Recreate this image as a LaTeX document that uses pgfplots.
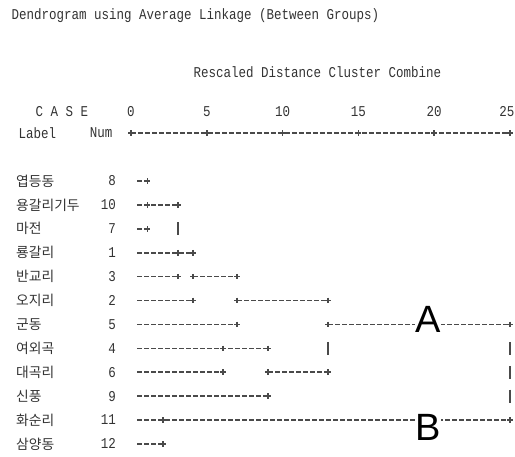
\documentclass[border=0pt]{standalone}
\usepackage{pgfplots}
\pgfplotsset{compat=1.18}
\usepackage{graphicx}
\usepackage{fontspec}
\setmainfont{Liberation Sans}
\newfontfamily\kr{Noto Sans CJK KR}
\newfontfamily\mono{Liberation Mono}
\definecolor{txt}{HTML}{333333}
\definecolor{ln}{HTML}{4A4A4A}
\newcommand{\mt}[1]{\scalebox{1.0}[1.2]{\mono\fontsize{12.5pt}{13pt}\selectfont #1}}
\newcommand{\kt}[1]{{\kr\fontsize{13.8pt}{14pt}\selectfont #1}}
\tikzset{
  seg/.style={color=ln, line width=1.6pt, dash pattern=on 4.6pt off 2.4pt, mark=none},
  bar/.style={color=ln, line width=1.5pt, mark=none},
  plus/.style={color=ln, only marks, mark=+, mark size=2.8pt, mark options={solid, line width=1.6pt}},
  lab/.style={anchor=west, text=txt, inner sep=0pt},
  num/.style={anchor=east, text=txt, inner sep=0pt},
}
\begin{document}
\begin{tikzpicture}
\useasboundingbox (0,0) rectangle (515pt,456pt);
\begin{axis}[
  at={(0,0)}, anchor=south west, scale only axis,
  width=515pt, height=456pt,
  xmin=-8.641, xmax=25.33, ymin=-6.573, ymax=12.506,
  y dir=reverse, hide axis, clip=false,
]
% header text
\node[anchor=west, text=txt] at (axis cs:-8.11,-5.90) {\mt{Dendrogram using Average Linkage (Between Groups)}};
\node[anchor=west, text=txt] at (axis cs:3.89,-3.561) {\mt{Rescaled Distance Cluster Combine}};
\node[anchor=west, text=txt] at (axis cs:-6.53,-1.887) {\mt{C A S E}};
\node[text=txt] at (axis cs:0,-1.887) {\mt{0}};
\node[text=txt] at (axis cs:5,-1.887) {\mt{5}};
\node[text=txt] at (axis cs:10,-1.887) {\mt{10}};
\node[text=txt] at (axis cs:15,-1.887) {\mt{15}};
\node[text=txt] at (axis cs:20,-1.887) {\mt{20}};
\node[text=txt] at (axis cs:24.8,-1.887) {\mt{25}};
\node[anchor=west, text=txt] at (axis cs:-7.65,-1.008) {\mt{Label}};
\node[anchor=east, text=txt] at (axis cs:-0.99,-1.008) {\mt{Num}};
% ruler
\addplot[seg] coordinates {(0,-1.008) (25,-1.008)};
\addplot[plus] coordinates {(0,-1.008) (5,-1.008) (10,-1.008) (15,-1.008) (20,-1.008) (25,-1.008)};
% row labels
\node[lab] at (axis cs:-7.586,1) {\kt{엽등동}};
\node[lab] at (axis cs:-7.586,2) {\kt{용갈리기두}};
\node[lab] at (axis cs:-7.586,3) {\kt{마전}};
\node[lab] at (axis cs:-7.586,4) {\kt{룡갈리}};
\node[lab] at (axis cs:-7.586,5) {\kt{반교리}};
\node[lab] at (axis cs:-7.586,6) {\kt{오지리}};
\node[lab] at (axis cs:-7.586,7) {\kt{군동}};
\node[lab] at (axis cs:-7.586,8) {\kt{여외곡}};
\node[lab] at (axis cs:-7.586,9) {\kt{대곡리}};
\node[lab] at (axis cs:-7.586,10) {\kt{신풍}};
\node[lab] at (axis cs:-7.586,11) {\kt{화순리}};
\node[lab] at (axis cs:-7.586,12) {\kt{삼양동}};
\node[num] at (axis cs:-0.99,1) {\mt{8}};
\node[num] at (axis cs:-0.99,2) {\mt{10}};
\node[num] at (axis cs:-0.99,3) {\mt{7}};
\node[num] at (axis cs:-0.99,4) {\mt{1}};
\node[num] at (axis cs:-0.99,5) {\mt{3}};
\node[num] at (axis cs:-0.99,6) {\mt{2}};
\node[num] at (axis cs:-0.99,7) {\mt{5}};
\node[num] at (axis cs:-0.99,8) {\mt{4}};
\node[num] at (axis cs:-0.99,9) {\mt{6}};
\node[num] at (axis cs:-0.99,10) {\mt{9}};
\node[num] at (axis cs:-0.99,11) {\mt{11}};
\node[num] at (axis cs:-0.99,12) {\mt{12}};
% horizontal segments
\addplot[seg] coordinates {(0.4,1) (1.1,1)};
\addplot[seg] coordinates {(0.4,2) (3.1,2)};
\addplot[seg] coordinates {(0.4,3) (1.1,3)};
\addplot[seg] coordinates {(0.4,4) (4.1,4)};
\addplot[seg] coordinates {(0.4,5) (3.1,5)};
\addplot[seg] coordinates {(4.1,5) (7.0,5)};
\addplot[seg] coordinates {(0.4,6) (4.1,6)};
\addplot[seg] coordinates {(7.0,6) (13.0,6)};
\addplot[seg] coordinates {(0.4,7) (7.0,7)};
\addplot[seg] coordinates {(13.0,7) (25,7)};
\addplot[seg] coordinates {(0.4,8) (9.05,8)};
\addplot[seg] coordinates {(0.4,9) (6.05,9)};
\addplot[seg] coordinates {(9.05,9) (13.0,9)};
\addplot[seg] coordinates {(0.4,10) (9.05,10)};
\addplot[seg] coordinates {(0.4,11) (25,11)};
\addplot[seg] coordinates {(0.4,12) (2.1,12)};
% vertical bars
\addplot[bar] coordinates {(3.1,2.73) (3.1,3.27)};
\addplot[bar] coordinates {(13.0,7.73) (13.0,8.27)};
\addplot[bar] coordinates {(25,7.73) (25,8.27)};
\addplot[bar] coordinates {(25,8.73) (25,9.27)};
\addplot[bar] coordinates {(25,9.73) (25,10.27)};
% plus marks
\addplot[plus] coordinates {
(1.1,1) (1.1,2) (3.1,2) (1.1,3) (3.1,4) (4.1,4)
(3.1,5) (4.1,5) (7.0,5) (4.1,6) (7.0,6) (13.0,6)
(7.0,7) (13.0,7) (25,7) (6.05,8) (9.05,8)
(6.05,9) (9.05,9) (13.0,9) (9.05,10) (2.1,11) (25,11) (2.1,12)};
% annotations
\node[fill=white, inner sep=0.5pt, font=\fontsize{38pt}{38pt}\selectfont] at (axis cs:19.6,6.79) {A};
\node[fill=white, inner sep=0.5pt, font=\fontsize{38pt}{38pt}\selectfont] at (axis cs:19.6,11.33) {B};
\end{axis}
\end{tikzpicture}
\end{document}
